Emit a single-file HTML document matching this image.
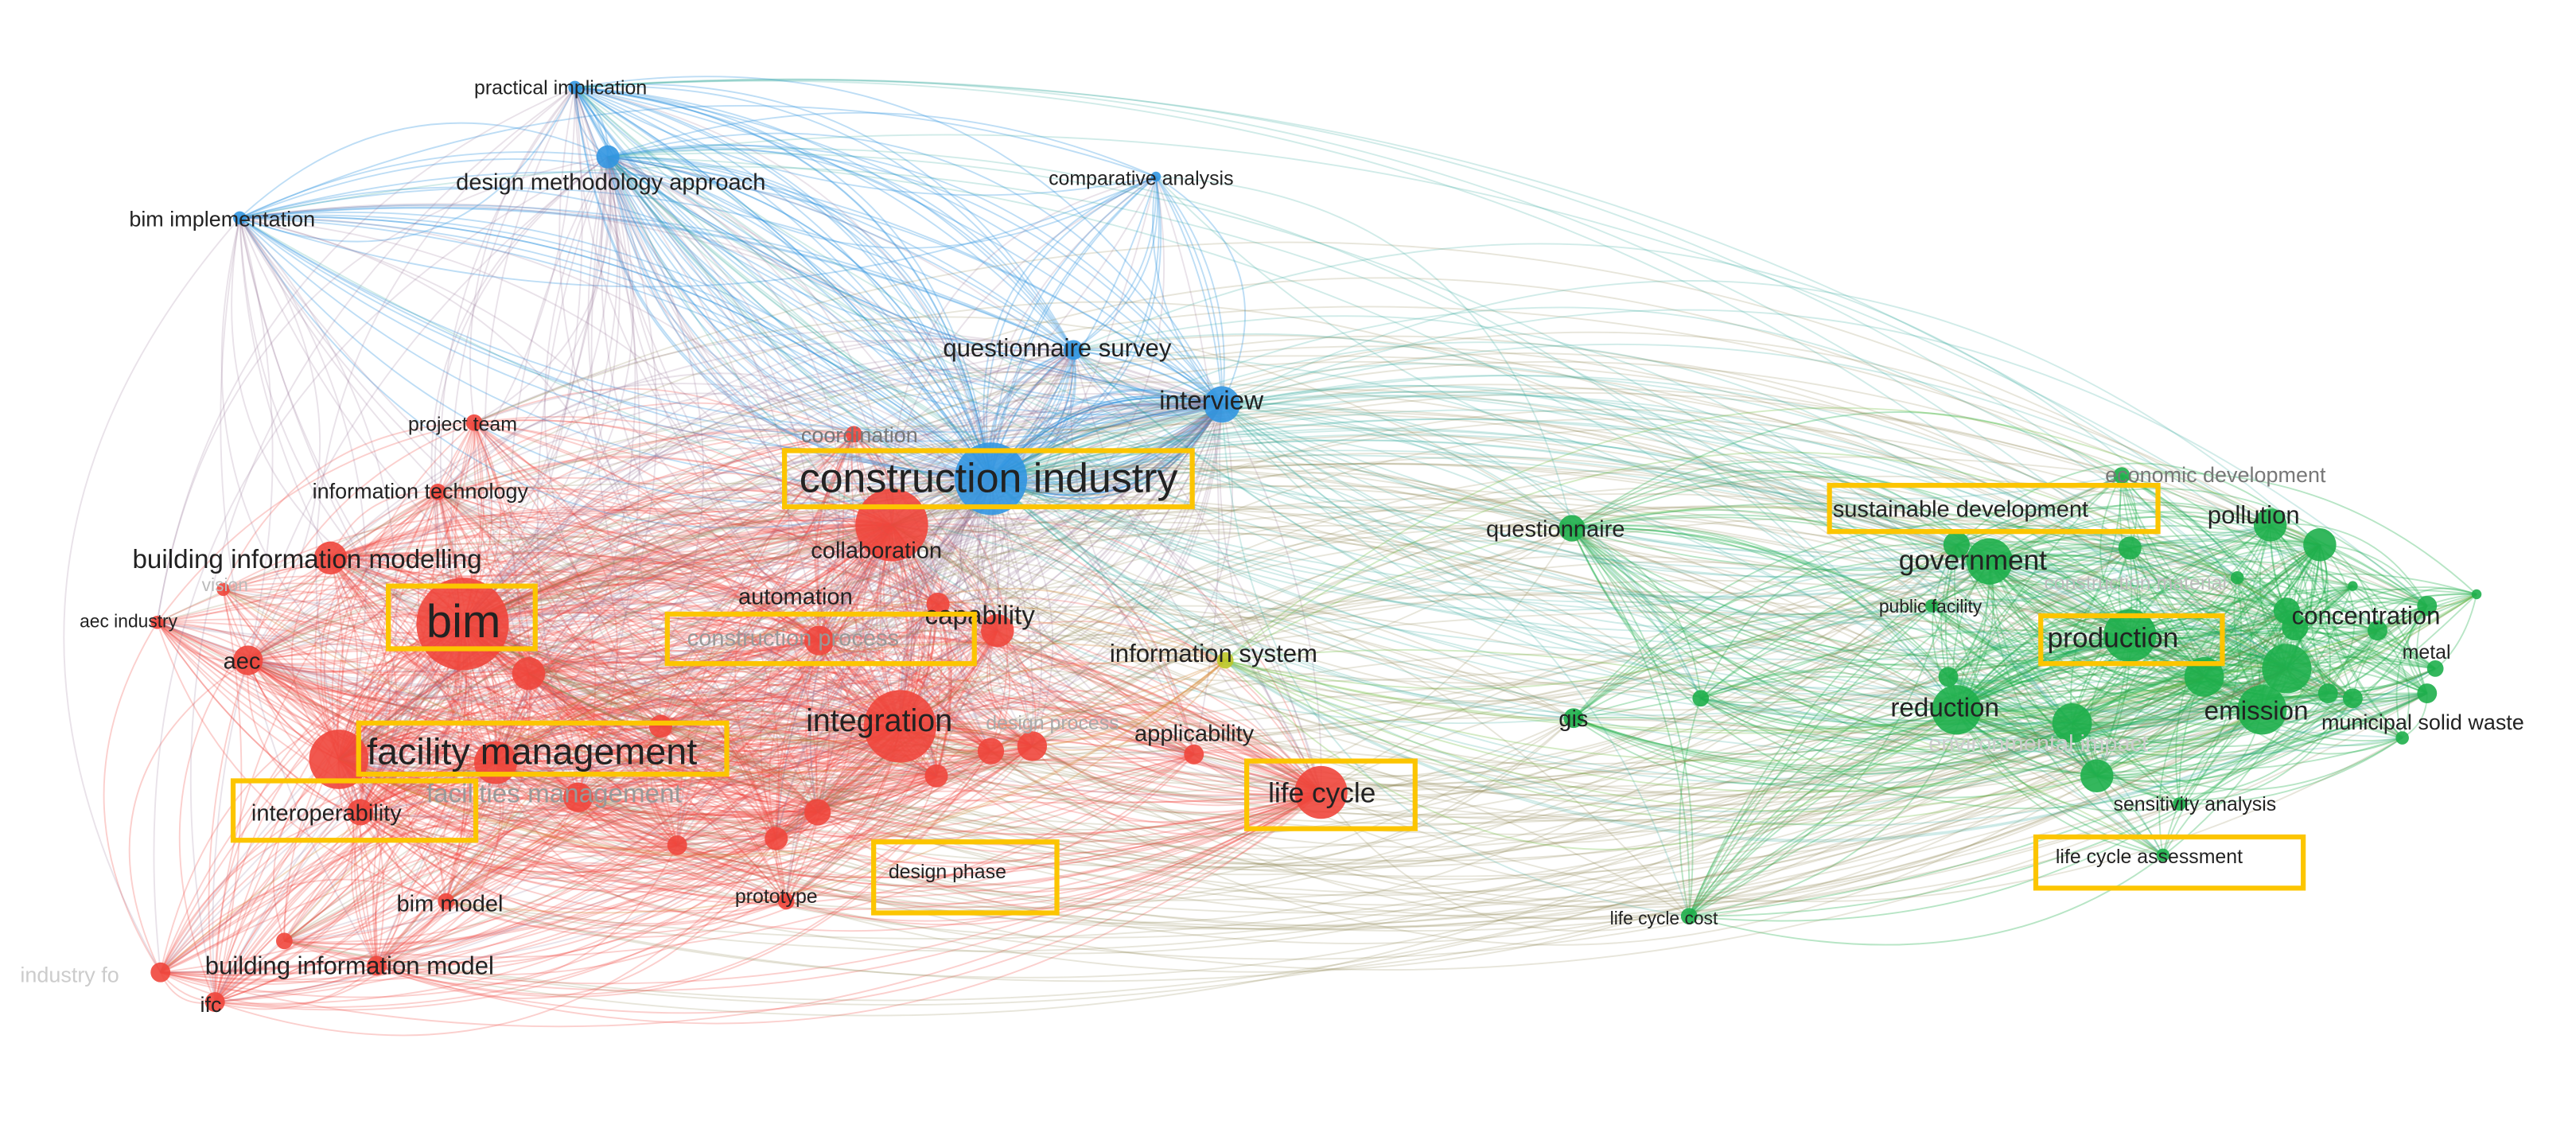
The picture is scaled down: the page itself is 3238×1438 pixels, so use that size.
<!DOCTYPE html>
<html><head><meta charset="utf-8">
<style>
html,body{margin:0;padding:0;background:#fff;}
svg{display:block;}
text{font-family:"Liberation Sans","DejaVu Sans",sans-serif;}
</style></head>
<body>
<svg id="s" width="3238" height="1438" viewBox="0 0 1560 693" xmlns="http://www.w3.org/2000/svg">
<rect width="1560" height="693" fill="#fff"/>
<g id="edges" fill="none"></g>
<g id="nodes"></g>
<g id="labels">
<text x="287" y="57" font-size="12" fill="#222">practical implication</text>
<text x="276" y="115" font-size="14" fill="#222">design methodology approach</text>
<text x="635" y="112" font-size="12" fill="#222">comparative analysis</text>
<text x="78" y="137" font-size="13" fill="#222">bim implementation</text>
<text x="571" y="216" font-size="15" fill="#222">questionnaire survey</text>
<text x="702" y="248" font-size="16" fill="#222">interview</text>
<text x="484" y="298" font-size="25" fill="#222">construction industry</text>
<text x="247" y="261" font-size="12" fill="#222">project team</text>
<text x="485" y="268" font-size="13" fill="#777">coordination</text>
<text x="189" y="302" font-size="13" fill="#222">information technology</text>
<text x="80" y="344" font-size="16" fill="#222">building information modelling</text>
<text x="122" y="358" font-size="11" fill="#bbb">vision</text>
<text x="48" y="380" font-size="11" fill="#222">aec industry</text>
<text x="135" y="405" font-size="14" fill="#222">aec</text>
<text x="258" y="386" font-size="28" fill="#222">bim</text>
<text x="491" y="338" font-size="14" fill="#222">collaboration</text>
<text x="447" y="366" font-size="14" fill="#222">automation</text>
<text x="560" y="378" font-size="16" fill="#222">capability</text>
<text x="416" y="391" font-size="14" fill="#999">construction process</text>
<text x="672" y="401" font-size="15" fill="#222">information system</text>
<text x="488" y="443" font-size="19" fill="#222">integration</text>
<text x="597" y="442" font-size="12" fill="#aaa">design process</text>
<text x="687" y="449" font-size="14" fill="#222">applicability</text>
<text x="222" y="463" font-size="22.5" fill="#222">facility management</text>
<text x="258" y="486" font-size="16" fill="#999">facilities management</text>
<text x="152" y="497" font-size="14" fill="#222">interoperability</text>
<text x="768" y="486" font-size="17" fill="#222">life cycle</text>
<text x="538" y="532" font-size="12" fill="#222">design phase</text>
<text x="445" y="547" font-size="12" fill="#222">prototype</text>
<text x="240" y="552" font-size="14" fill="#222">bim model</text>
<text x="124" y="590" font-size="15" fill="#222">building information model</text>
<text x="12" y="595" font-size="13" fill="#ccc">industry fo</text>
<text x="121" y="613" font-size="13" fill="#222">ifc</text>
<text x="900" y="325" font-size="14" fill="#222">questionnaire</text>
<text x="944" y="440" font-size="14" fill="#222">gis</text>
<text x="975" y="560" font-size="11" fill="#222">life cycle cost</text>
<text x="1275" y="292" font-size="13" fill="#777">economic development</text>
<text x="1110" y="313" font-size="14" fill="#222">sustainable development</text>
<text x="1337" y="317" font-size="15" fill="#222">pollution</text>
<text x="1150" y="345" font-size="17" fill="#222">government</text>
<text x="1238" y="357" font-size="12" fill="#bbb">construction material</text>
<text x="1138" y="371" font-size="11" fill="#222">public facility</text>
<text x="1240" y="392" font-size="17" fill="#222">production</text>
<text x="1388" y="378" font-size="15" fill="#222">concentration</text>
<text x="1455" y="399" font-size="12" fill="#222">metal</text>
<text x="1145" y="434" font-size="16" fill="#222">reduction</text>
<text x="1335" y="436" font-size="16" fill="#222">emission</text>
<text x="1406" y="442" font-size="13" fill="#222">municipal solid waste</text>
<text x="1168" y="455" font-size="14" fill="#ccc">environmental impact</text>
<text x="1280" y="491" font-size="12" fill="#222">sensitivity analysis</text>
<text x="1245" y="523" font-size="12" fill="#222">life cycle assessment</text>
</g>
<g fill="none" stroke="#fcc500" stroke-width="3">
<rect x="475" y="273" width="247" height="34"/>
<rect x="235" y="355" width="89" height="38"/>
<rect x="217" y="438" width="223" height="31"/>
<rect x="141" y="473" width="147" height="36"/>
<rect x="404" y="372" width="186" height="30"/>
<rect x="755" y="461" width="102" height="41"/>
<rect x="529" y="510" width="111" height="43"/>
<rect x="1108" y="294" width="199" height="28"/>
<rect x="1236" y="373" width="110" height="29"/>
<rect x="1233" y="507" width="162" height="31"/>
</g>
</svg>
<script>
var N=[
[348,53,4,'b'],[368,95,7,'b'],[700,107,3,'b'],[145,132,4,'b'],[650,212,6,'b'],[740,245,11,'b'],[600,290,22,'b'],
[287,256,5,'r'],[517,263,5,'r'],[265,298,5,'r'],[200,338,10,'r'],[135,357,4,'r'],[95,377,4,'r'],[150,400,9,'r'],
[280,378,28,'r'],[320,408,10,'r'],[540,318,22,'r'],[568,366,7,'r'],[604,382,10,'r'],[496,388,9,'r'],[545,440,22,'r'],
[625,452,9,'r'],[723,457,6,'r'],[205,460,18,'r'],[350,483,9,'r'],[300,462,13,'r'],[218,492,8,'r'],[800,480,16,'r'],
[410,512,6,'r'],[470,508,7,'r'],[495,492,8,'r'],[567,470,7,'r'],[600,455,8,'r'],[476,546,5,'r'],[270,546,5,'r'],
[228,585,6,'r'],[172,570,5,'r'],[97,589,6,'r'],[130,607,6,'r'],[400,440,7,'r'],
[742,400,5,'y'],
[952,320,8,'g'],[953,435,6,'g'],[1030,423,5,'g'],[1023,555,5,'g'],[1285,288,5,'g'],[1185,330,8,'g'],[1290,332,7,'g'],
[1375,318,10,'g'],[1205,340,14,'g'],[1355,350,4,'g'],[1405,330,10,'g'],[1170,367,4,'g'],[1290,385,16,'g'],[1385,370,8,'g'],
[1425,355,3,'g'],[1470,367,6,'g'],[1390,380,8,'g'],[1440,382,6,'g'],[1385,405,15,'g'],[1335,410,12,'g'],[1185,430,15,'g'],
[1180,410,6,'g'],[1370,430,15,'g'],[1255,438,12,'g'],[1270,470,10,'g'],[1410,420,6,'g'],[1425,423,6,'g'],[1470,420,6,'g'],
[1475,405,5,'g'],[1455,447,4,'g'],[1320,487,4,'g'],[1310,518,4,'g'],[1500,360,3,'g']
];
var C={r:[240,70,60],b:[50,150,225],g:[30,175,75],y:[190,200,40]};
var seed=7;function R(){seed=(seed*16807)%2147483647;return (seed-1)/2147483646;}
var E=document.getElementById('edges'),ND=document.getElementById('nodes');
var ns='http://www.w3.org/2000/svg';
function idx(c){var a=[];N.forEach(function(n,i){if(n[3]==c)a.push(i);});return a;}
var rr=idx('r'),bb=idx('b'),gg=idx('g'),yy=idx('y');
function pick(a){return a[Math.floor(R()*a.length)];}
function wpick(a){var t=0;a.forEach(function(i){t+=N[i][2];});var x=R()*t;
 for(var k=0;k<a.length;k++){x-=N[a[k]][2];if(x<=0)return a[k];}return a[a.length-1];}
function edge(i,j,al,w){
 var p=N[i],q=N[j];if(i==j)return;
 var dx=q[0]-p[0],dy=q[1]-p[1],L=Math.sqrt(dx*dx+dy*dy);
 var k=(R()*0.35+0.1)*(R()<0.5?-1:1);
 if(L>500)k=(R()*0.25+0.12)*(R()<0.55?-1:1);
 var cx=(p[0]+q[0])/2+dy*k,cy=(p[1]+q[1])/2-dx*k;
 cy=Math.max(10,Math.min(690,cy));
 var a=C[p[3]],b=C[q[3]];
 var col='rgb('+Math.round((a[0]+b[0])/2)+','+Math.round((a[1]+b[1])/2)+','+Math.round((a[2]+b[2])/2)+')';
 var e=document.createElementNS(ns,'path');
 e.setAttribute('d','M'+p[0]+' '+p[1]+'Q'+cx.toFixed(1)+' '+cy.toFixed(1)+' '+q[0]+' '+q[1]);
 e.setAttribute('stroke',col);e.setAttribute('stroke-opacity',al);e.setAttribute('stroke-width',w);
 E.appendChild(e);
}
var i;
for(i=0;i<950;i++)edge(wpick(rr),wpick(rr),0.26,0.9);
for(i=0;i<200;i++)edge(wpick(bb),wpick(bb),0.32,0.9);
for(i=0;i<260;i++)edge(wpick(bb),wpick(rr),0.2,0.9);
for(i=0;i<480;i++)edge(wpick(gg),wpick(gg),0.32,0.9);
for(i=0;i<180;i++)edge(wpick(rr),wpick(gg),0.2,0.9);
for(i=0;i<90;i++)edge(wpick(bb),wpick(gg),0.22,0.9);
for(i=0;i<25;i++)edge(yy[0],pick(rr.concat(gg)),0.3,0.9);
N.forEach(function(n){
 var c=C[n[3]];var e=document.createElementNS(ns,'circle');
 e.setAttribute('cx',n[0]);e.setAttribute('cy',n[1]);e.setAttribute('r',n[2]);
 e.setAttribute('fill','rgb('+c[0]+','+c[1]+','+c[2]+')');e.setAttribute('fill-opacity',0.9);
 ND.appendChild(e);
});
</script>
</body></html>
